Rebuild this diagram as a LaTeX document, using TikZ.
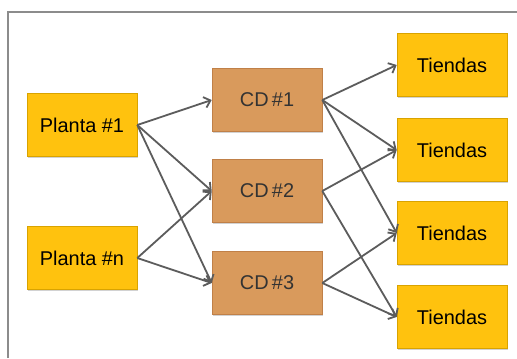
\documentclass[tikz,border=0pt]{standalone}
\usepackage{fontspec}
\setmainfont{Liberation Sans}
\usetikzlibrary{arrows.meta,shadows}
\definecolor{gold}{HTML}{FFC20E}
\definecolor{goldedge}{HTML}{D9A300}
\definecolor{tan}{HTML}{D99A5C}
\definecolor{tanedge}{HTML}{C08048}
\definecolor{arrowgray}{HTML}{5C5C5C}
\definecolor{framegray}{HTML}{8C8C8C}
\tikzset{
  box/.style={rectangle, minimum width=110bp, minimum height=63bp, inner sep=0pt,
    line width=0.6bp, font=\fontsize{20}{24}\selectfont,
    drop shadow={shadow xshift=1.2bp, shadow yshift=-1.2bp, opacity=0.35}},
  ybox/.style={box, fill=gold, draw=goldedge, text=black},
  cbox/.style={box, fill=tan, draw=tanedge, text=black!80},
  link/.style={draw=arrowgray, line width=1.8bp, -{Straight Barb[length=6bp,width=11bp,line width=1.8bp]}}
}
\begin{document}
\begin{tikzpicture}[x=1bp,y=-1bp]
\useasboundingbox (0,0) rectangle (517,358);
\fill[white] (0,0) rectangle (517,358);
\draw[framegray, line width=1.3bp] (8,358) -- (8,12) -- (517,12);
\node[ybox] (p1) at (82,125) {Planta \#1};
\node[ybox] (pn) at (82,258) {Planta \#n};
\node[cbox] (c1) at (267,100) {CD\,\#1};
\node[cbox] (c2) at (267,191) {CD\,\#2};
\node[cbox] (c3) at (267,283) {CD\,\#3};
\node[ybox] (t1) at (452,65) {Tiendas};
\node[ybox] (t2) at (452,150) {Tiendas};
\node[ybox] (t3) at (452,233) {Tiendas};
\node[ybox] (t4) at (452,317) {Tiendas};
\draw[link] (p1.east) -- (c1.west);
\draw[link] (p1.east) -- (c2.west);
\draw[link] (p1.east) -- (c3.west);
\draw[link] (pn.east) -- (c2.west);
\draw[link] (pn.east) -- (c3.west);
\draw[link] (c1.east) -- (t1.west);
\draw[link] (c1.east) -- (t2.west);
\draw[link] (c1.east) -- (t3.west);
\draw[link] (c2.east) -- (t2.west);
\draw[link] (c2.east) -- (t4.west);
\draw[link] (c3.east) -- (t3.west);
\draw[link] (c3.east) -- (t4.west);
\end{tikzpicture}
\end{document}
